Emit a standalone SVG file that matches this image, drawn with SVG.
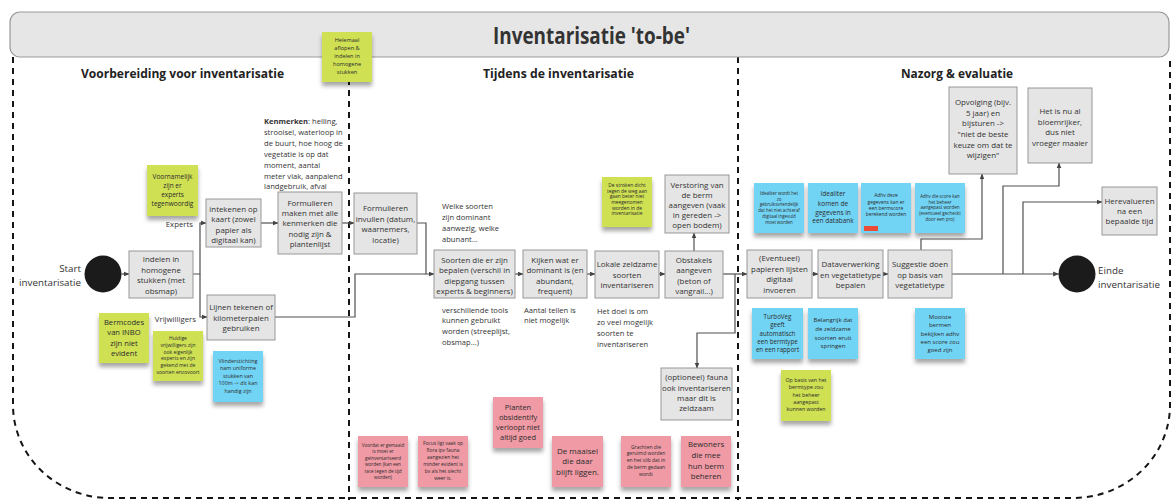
<svg xmlns="http://www.w3.org/2000/svg" width="1172" height="500" viewBox="0 0 1172 500">
  <style>
    text { font-family: 'Open Sans', 'Liberation Sans', sans-serif; fill: #333; }
    .box { fill: #e5e5e5; stroke: #979797; stroke-width: 1; }
    .bt { font-size: 7.9px; text-anchor: middle; }
    .ft { font-size: 7.6px; }
    .lbl { font-size: 7.8px; text-anchor: end; }
    .end { font-size: 9.8px; }
    .hd { font-size: 12px; font-weight: 700; fill: #222; }
    .st { text-anchor: middle; fill: #2b2b2b; }
    .g { fill: #cfe052; }
    .b { fill: #72d4f5; }
    .p { fill: #f09aa5; }
    .dash { fill: none; stroke: #151515; stroke-width: 2; stroke-dasharray: 6 5; }
    .wire { fill: none; stroke: #505050; stroke-width: 1.2; marker-end: url(#ah); }
    .line { fill: none; stroke: #505050; stroke-width: 1.2; }
  </style>
  <defs>
    <marker id="ah" viewBox="0 0 10 10" refX="9" refY="5" markerWidth="6" markerHeight="6" orient="auto" markerUnits="userSpaceOnUse">
      <path d="M0,1 L10,5 L0,9 z" fill="#444"/>
    </marker>
    <filter id="sh" x="-20%" y="-20%" width="140%" height="150%">
      <feDropShadow dx="0" dy="4" stdDeviation="2" flood-color="#000" flood-opacity="0.35"/>
    </filter>
  </defs>

  <rect width="1172" height="500" fill="#fff"/>

  <!-- frame: outer dashed boundary and column dividers -->
  <g id="frame">
    <path class="dash" d="M13,57 V405 A97,93 0 0 0 110,498 H1073 A97,93 0 0 0 1170,405 V57"/>
    <line class="dash" x1="349" y1="57" x2="349" y2="500"/>
    <line class="dash" x1="738" y1="57" x2="738" y2="500"/>
  </g>

  <!-- title bar -->
  <g id="title">
    <rect x="10" y="12" width="1159" height="45" rx="10" fill="#e6e6e6" stroke="#9a9a9a" stroke-width="1.2"/>
    <text x="493" y="44" font-size="23" font-weight="700" fill="#222" textLength="197" lengthAdjust="spacingAndGlyphs">Inventarisatie 'to-be'</text>
  </g>

  <!-- column headings -->
  <g id="headings">
    <text class="hd" x="81" y="77.5" textLength="203" lengthAdjust="spacingAndGlyphs">Voorbereiding voor inventarisatie</text>
    <text class="hd" x="483" y="77.5" textLength="151" lengthAdjust="spacingAndGlyphs">Tijdens de inventarisatie</text>
    <text class="hd" x="901" y="77.5" textLength="112" lengthAdjust="spacingAndGlyphs">Nazorg &amp; evaluatie</text>
  </g>

  <!-- connectors -->
  <g id="connectors">
    <path class="wire" d="M121.5,274 H129"/>
    <path class="wire" d="M193,274 H200 V223 H206"/>
    <path class="wire" d="M200,274 V317 H207"/>
    <path class="wire" d="M261,223 H278"/>
    <path class="wire" d="M342,223 H354"/>
    <path class="wire" d="M417,223 H426 V274 H434"/>
    <path class="line" d="M275,317 H355 V274 H426"/>
    <path class="wire" d="M515,274 H523"/>
    <path class="wire" d="M587,274 H595"/>
    <path class="wire" d="M659,274 H665"/>
    <path class="wire" d="M694,251 V233"/>
    <path class="wire" d="M723,274 H747"/>
    <path class="wire" d="M735,274 V333 H697 V368"/>
    <path class="wire" d="M812,274 H818"/>
    <path class="wire" d="M883,274 H888"/>
    <path class="wire" d="M921,250 V239 H982 V174"/>
    <path class="wire" d="M952,274 H1058.5"/>
    <path class="wire" d="M1003,274 V186 H1059 V163"/>
    <path class="wire" d="M1023,274 V202 H1102"/>
  </g>

  <!-- start / end events -->
  <g id="start">
    <circle cx="103" cy="274" r="18.5" fill="#1b1b1b"/>
    <text class="end" x="81" y="271.5" text-anchor="end">Start</text>
    <text class="end" x="81" y="285.5" text-anchor="end">inventarisatie</text>
  </g>
  <g id="einde">
    <circle cx="1077" cy="274" r="18.5" fill="#1b1b1b"/>
    <text class="end" x="1098" y="274">Einde</text>
    <text class="end" x="1098" y="287.5">inventarisatie</text>
  </g>

  <!-- branch labels -->
  <g id="labels">
    <text class="lbl" x="193" y="227">Experts</text>
    <text class="lbl" x="196" y="322">Vrijwilligers</text>
  </g>

  <!-- process boxes -->
  <g id="indelen">
    <rect class="box" x="129" y="251" width="64" height="47"/>
    <text class="bt"><tspan x="161" y="262">Indelen in</tspan><tspan x="161" y="272.5">homogene</tspan><tspan x="161" y="283">stukken (met</tspan><tspan x="161" y="293.5">obsmap)</tspan></text>
  </g>
  <g id="intekenen">
    <rect class="box" x="206" y="199" width="55" height="48"/>
    <text class="bt"><tspan x="233.5" y="212">intekenen op</tspan><tspan x="233.5" y="222">kaart (zowel</tspan><tspan x="233.5" y="232.5">papier als</tspan><tspan x="233.5" y="243">digitaal kan)</tspan></text>
  </g>
  <g id="lijnen">
    <rect class="box" x="207" y="295" width="68" height="45"/>
    <text class="bt"><tspan x="241" y="310">Lijnen tekenen of</tspan><tspan x="241" y="320.5">kilometerpalen</tspan><tspan x="241" y="331">gebruiken</tspan></text>
  </g>
  <g id="formulieren-maken">
    <rect class="box" x="278" y="192" width="64" height="62"/>
    <text class="bt"><tspan x="310" y="206">Formulieren</tspan><tspan x="310" y="216">maken met alle</tspan><tspan x="310" y="226">kenmerken die</tspan><tspan x="310" y="236.5">nodig zijn &amp;</tspan><tspan x="310" y="247">plantenlijst</tspan></text>
  </g>
  <g id="formulieren-invullen">
    <rect class="box" x="354" y="193" width="63" height="61"/>
    <text class="bt"><tspan x="385.5" y="211">Formulieren</tspan><tspan x="385.5" y="221.5">invullen (datum,</tspan><tspan x="385.5" y="232">waarnemers,</tspan><tspan x="385.5" y="242.5">locatie)</tspan></text>
  </g>
  <g id="soorten-bepalen">
    <rect class="box" x="434" y="250" width="81" height="48"/>
    <text class="bt"><tspan x="474.5" y="263">Soorten die er zijn</tspan><tspan x="474.5" y="273.3">bepalen (verschil in</tspan><tspan x="474.5" y="283.6">diepgang tussen</tspan><tspan x="474.5" y="294">experts &amp; beginners)</tspan></text>
  </g>
  <g id="kijken">
    <rect class="box" x="523" y="250" width="64" height="48"/>
    <text class="bt"><tspan x="555" y="263">Kijken wat er</tspan><tspan x="555" y="273.3">dominant is (en</tspan><tspan x="555" y="283.6">abundant,</tspan><tspan x="555" y="294">frequent)</tspan></text>
  </g>
  <g id="lokale">
    <rect class="box" x="595" y="251" width="64" height="47"/>
    <text class="bt"><tspan x="627" y="267">Lokale zeldzame</tspan><tspan x="627" y="277.5">soorten</tspan><tspan x="627" y="288">inventariseren</tspan></text>
  </g>
  <g id="obstakels">
    <rect class="box" x="665" y="251" width="58" height="47"/>
    <text class="bt"><tspan x="694" y="263">Obstakels</tspan><tspan x="694" y="273.3">aangeven</tspan><tspan x="694" y="283.6">(beton of</tspan><tspan x="694" y="294">vangrail...)</tspan></text>
  </g>
  <g id="verstoring">
    <rect class="box" x="665" y="175" width="64" height="58"/>
    <text class="bt"><tspan x="697" y="188">Verstoring van</tspan><tspan x="697" y="198">de berm</tspan><tspan x="697" y="208">aangeven (vaak</tspan><tspan x="697" y="218">in gereden -&gt;</tspan><tspan x="697" y="228">open bodem)</tspan></text>
  </g>
  <g id="fauna">
    <rect class="box" x="661" y="368" width="71" height="52"/>
    <text class="bt"><tspan x="696.5" y="380">(optioneel) fauna</tspan><tspan x="696.5" y="390.5">ook inventariseren</tspan><tspan x="696.5" y="401">maar dit is</tspan><tspan x="696.5" y="411">zeldzaam</tspan></text>
  </g>
  <g id="invoeren">
    <rect class="box" x="747" y="250" width="65" height="48"/>
    <text class="bt"><tspan x="779.5" y="261">(Eventueel)</tspan><tspan x="779.5" y="271.5">papieren lijsten</tspan><tspan x="779.5" y="282">digitaal</tspan><tspan x="779.5" y="292.5">invoeren</tspan></text>
  </g>
  <g id="dataverwerking">
    <rect class="box" x="818" y="250" width="65" height="48"/>
    <text class="bt"><tspan x="850.5" y="267">Dataverwerking</tspan><tspan x="850.5" y="277.5">en vegetatietype</tspan><tspan x="850.5" y="288">bepalen</tspan></text>
  </g>
  <g id="suggestie">
    <rect class="box" x="888" y="250" width="64" height="48"/>
    <text class="bt"><tspan x="920" y="267">Suggestie doen</tspan><tspan x="920" y="277.5">op basis van</tspan><tspan x="920" y="288">vegetatietype</tspan></text>
  </g>
  <g id="opvolging">
    <rect class="box" x="949" y="87" width="68" height="87"/>
    <text class="bt"><tspan x="983" y="105">Opvolging (bijv.</tspan><tspan x="983" y="115.5">5 jaar) en</tspan><tspan x="983" y="126.2">bijsturen -&gt;</tspan><tspan x="983" y="136.9">"niet de beste</tspan><tspan x="983" y="147.6">keuze om dat te</tspan><tspan x="983" y="158.3">wijzigen"</tspan></text>
  </g>
  <g id="bloemrijker">
    <rect class="box" x="1028" y="88" width="64" height="75"/>
    <text class="bt"><tspan x="1060" y="114">Het is nu al</tspan><tspan x="1060" y="124.5">bloemrijker,</tspan><tspan x="1060" y="135">dus niet</tspan><tspan x="1060" y="145.5">vroeger maaier</tspan></text>
  </g>
  <g id="herevalueren">
    <rect class="box" x="1102" y="187" width="55" height="48"/>
    <text class="bt"><tspan x="1129.5" y="203.5">Herevalueren</tspan><tspan x="1129.5" y="213.8">na een</tspan><tspan x="1129.5" y="224.1">bepaalde tijd</tspan></text>
  </g>

  <!-- free annotations -->
  <g id="kenmerken">
    <text class="ft"><tspan x="264" y="124"><tspan font-weight="700">Kenmerken</tspan>: helling,</tspan><tspan x="264" y="134.9">strooisel, waterloop in</tspan><tspan x="264" y="145.8">de buurt, hoe hoog de</tspan><tspan x="264" y="156.7">vegetatie is op dat</tspan><tspan x="264" y="167.6">moment, aantal</tspan><tspan x="264" y="178.5">meter vlak, aanpalend</tspan><tspan x="264" y="189.4">landgebruik, afval</tspan></text>
  </g>
  <g id="note-welke">
    <text class="ft"><tspan x="442" y="208.7">Welke soorten</tspan><tspan x="442" y="219.8">zijn dominant</tspan><tspan x="442" y="230.8">aanwezig, welke</tspan><tspan x="442" y="241.8">abunant...</tspan></text>
  </g>
  <g id="note-tools">
    <text class="ft"><tspan x="442" y="312.7">verschillende tools</tspan><tspan x="442" y="323.4">kunnen gebruikt</tspan><tspan x="442" y="334.4">worden (streeplijst,</tspan><tspan x="442" y="345.4">obsmap...)</tspan></text>
  </g>
  <g id="note-tellen">
    <text class="ft"><tspan x="524" y="312.7">Aantal tellen is</tspan><tspan x="524" y="323.4">niet mogelijk</tspan></text>
  </g>
  <g id="note-doel">
    <text class="ft"><tspan x="597" y="314.4">Het doel is om</tspan><tspan x="597" y="325.4">zo veel mogelijk</tspan><tspan x="597" y="336">soorten te</tspan><tspan x="597" y="346.5">inventariseren</tspan></text>
  </g>

  <!-- sticky notes -->
  <g id="sticky-helemaal">
    <rect class="g" x="322" y="32" width="50" height="50" filter="url(#sh)"/>
    <text class="st" font-size="5.6"><tspan x="347" y="42">Helemaal</tspan><tspan x="347" y="49.8">aflopen &amp;</tspan><tspan x="347" y="57.7">indelen in</tspan><tspan x="347" y="65.6">homogene</tspan><tspan x="347" y="73.5">stukken</tspan></text>
  </g>
  <g id="sticky-voornamelijk">
    <rect class="g" x="147" y="165" width="51" height="51" filter="url(#sh)"/>
    <text class="st" font-size="6.5"><tspan x="172.5" y="179.3">Voornamelijk</tspan><tspan x="172.5" y="188.3">zijn er</tspan><tspan x="172.5" y="197.3">experts</tspan><tspan x="172.5" y="206">tegenwoordig</tspan></text>
  </g>
  <g id="sticky-bermcodes">
    <rect class="g" x="99" y="313" width="50" height="50" filter="url(#sh)"/>
    <text class="st" font-size="7.6"><tspan x="124" y="324.5">Bermcodes</tspan><tspan x="124" y="335">van INBO</tspan><tspan x="124" y="345.5">zijn niet</tspan><tspan x="124" y="355.5">evident</tspan></text>
  </g>
  <g id="sticky-huidige">
    <rect class="g" x="153" y="331" width="50" height="50" filter="url(#sh)"/>
    <text class="st" font-size="5"><tspan x="178" y="340">Huidige</tspan><tspan x="178" y="346.8">vrijwilligers zijn</tspan><tspan x="178" y="353.5">ook eigenlijk</tspan><tspan x="178" y="360.2">experts en zijn</tspan><tspan x="178" y="367.2">gekend met de</tspan><tspan x="178" y="374">soorten enzovoort</tspan></text>
  </g>
  <g id="sticky-vlinderstichting">
    <rect class="b" x="213" y="351" width="50" height="51" filter="url(#sh)"/>
    <text class="st" font-size="5.4"><tspan x="238" y="362.6">Vlinderstichting</tspan><tspan x="238" y="370.2">nam uniforme</tspan><tspan x="238" y="377.6">stukken van</tspan><tspan x="238" y="385.2">100m -&gt; dit kan</tspan><tspan x="238" y="392.6">handig zijn</tspan></text>
  </g>
  <g id="sticky-stroken">
    <rect class="g" x="602" y="177" width="50" height="50" filter="url(#sh)"/>
    <text class="st" font-size="4.9"><tspan x="627" y="186.8">De stroken dicht</tspan><tspan x="627" y="192.5">tegen de weg aan</tspan><tspan x="627" y="198.4">gaan beter niet</tspan><tspan x="627" y="204.1">meegenomen</tspan><tspan x="627" y="209.5">worden in de</tspan><tspan x="627" y="215.1">inventarisatie</tspan></text>
  </g>
  <g id="sticky-voordat">
    <rect class="p" x="358" y="436" width="50" height="51" filter="url(#sh)"/>
    <text class="st" font-size="4.6"><tspan x="383" y="446.6">Voordat er gemaaid</tspan><tspan x="383" y="453.1">is moet er</tspan><tspan x="383" y="459.6">geïnventariseerd</tspan><tspan x="383" y="466.1">worden (kan een</tspan><tspan x="383" y="472.6">race tegen de tijd</tspan><tspan x="383" y="479.1">worden)</tspan></text>
  </g>
  <g id="sticky-focus">
    <rect class="p" x="418" y="436" width="50" height="51" filter="url(#sh)"/>
    <text class="st" font-size="4.9"><tspan x="443" y="444.5">Focus ligt vaak op</tspan><tspan x="443" y="451.5">flora ipv fauna</tspan><tspan x="443" y="458.5">aangezien het</tspan><tspan x="443" y="465.5">minder evident is</tspan><tspan x="443" y="472.5">bv als het slecht</tspan><tspan x="443" y="479.5">weer is.</tspan></text>
  </g>
  <g id="sticky-planten">
    <rect class="p" x="493" y="397" width="50" height="51" filter="url(#sh)"/>
    <text class="st" font-size="7.4"><tspan x="518" y="409.8">Planten</tspan><tspan x="518" y="419.8">obsidentify</tspan><tspan x="518" y="429.8">verloopt niet</tspan><tspan x="518" y="439.8">altijd goed</tspan></text>
  </g>
  <g id="sticky-maaisel">
    <rect class="p" x="552" y="436" width="51" height="51" filter="url(#sh)"/>
    <text class="st" font-size="8"><tspan x="577.5" y="453.8">De maaisel</tspan><tspan x="577.5" y="464">die daar</tspan><tspan x="577.5" y="474.5">blijft liggen.</tspan></text>
  </g>
  <g id="sticky-grachten">
    <rect class="p" x="621" y="436" width="50" height="51" filter="url(#sh)"/>
    <text class="st" font-size="5"><tspan x="646" y="448.5">Grachten die</tspan><tspan x="646" y="455.1">geruimd worden</tspan><tspan x="646" y="461.8">en het slib dat in</tspan><tspan x="646" y="468.5">de berm gedaan</tspan><tspan x="646" y="475.8">wordt</tspan></text>
  </g>
  <g id="sticky-bewoners">
    <rect class="p" x="681" y="436" width="50" height="51" filter="url(#sh)"/>
    <text class="st" font-size="7.8"><tspan x="706" y="447">Bewoners</tspan><tspan x="706" y="457.7">die mee</tspan><tspan x="706" y="468.7">hun berm</tspan><tspan x="706" y="479.4">beheren</tspan></text>
  </g>
  <g id="sticky-gebruiksvriendelijk">
    <rect class="b" x="754" y="183" width="50" height="50" filter="url(#sh)"/>
    <text class="st" font-size="4.4"><tspan x="779" y="194.6">Idealiter wordt het</tspan><tspan x="779" y="200.6">zo</tspan><tspan x="779" y="206.3">gebruiksvriendelijk</tspan><tspan x="779" y="211.6">dat het niet achteraf</tspan><tspan x="779" y="217.6">digitaal ingevuld</tspan><tspan x="779" y="223.9">moet worden</tspan></text>
  </g>
  <g id="sticky-databank">
    <rect class="b" x="808" y="183" width="50" height="50" filter="url(#sh)"/>
    <text class="st" font-size="6.5"><tspan x="833" y="196.3">Idealiter</tspan><tspan x="833" y="205.6">komen de</tspan><tspan x="833" y="214.6">gegevens in</tspan><tspan x="833" y="223.3">een databank</tspan></text>
  </g>
  <g id="sticky-bermscore">
    <rect class="b" x="861" y="183" width="50" height="50" filter="url(#sh)"/>
    <text class="st" font-size="4.9"><tspan x="886" y="196.7">Adhv deze</tspan><tspan x="886" y="204">gegevens kan er</tspan><tspan x="886" y="210">een bermscore</tspan><tspan x="886" y="216">berekend worden</tspan></text>
    <rect x="864" y="226" width="14" height="5" fill="#ee4a38"/>
  </g>
  <g id="sticky-score-beheer">
    <rect class="b" x="915" y="183" width="50" height="50" filter="url(#sh)"/>
    <text class="st" font-size="4.5"><tspan x="940" y="197.6">Adhv die score kan</tspan><tspan x="940" y="203.6">het beheer</tspan><tspan x="940" y="209.3">aangepast worden</tspan><tspan x="940" y="215.3">(eventueel gecheckt</tspan><tspan x="940" y="221.3">door een pro)</tspan></text>
  </g>
  <g id="sticky-turboveg">
    <rect class="b" x="752" y="308" width="51" height="51" filter="url(#sh)"/>
    <text class="st" font-size="6.2"><tspan x="777.5" y="318.9">TurboVeg</tspan><tspan x="777.5" y="327.2">geeft</tspan><tspan x="777.5" y="335.5">automatisch</tspan><tspan x="777.5" y="343.5">een bermtype</tspan><tspan x="777.5" y="351.5">en een rapport</tspan></text>
  </g>
  <g id="sticky-belangrijk">
    <rect class="b" x="808" y="308" width="50" height="51" filter="url(#sh)"/>
    <text class="st" font-size="6.1"><tspan x="833" y="322.2">Belangrijk dat</tspan><tspan x="833" y="330.9">de zeldzame</tspan><tspan x="833" y="339.5">soorten eruit</tspan><tspan x="833" y="348.2">springen</tspan></text>
  </g>
  <g id="sticky-mooiste">
    <rect class="b" x="915" y="308" width="50" height="51" filter="url(#sh)"/>
    <text class="st" font-size="6"><tspan x="940" y="318.9">Mooiste</tspan><tspan x="940" y="327.2">bermen</tspan><tspan x="940" y="335.5">bekijken adhv</tspan><tspan x="940" y="343.5">een score zou</tspan><tspan x="940" y="351.5">goed zijn</tspan></text>
  </g>
  <g id="sticky-bermtype-beheer">
    <rect class="g" x="781" y="370" width="50" height="51" filter="url(#sh)"/>
    <text class="st" font-size="5.3"><tspan x="806" y="381.9">Op basis van het</tspan><tspan x="806" y="389.2">bermtype zou</tspan><tspan x="806" y="396.6">het beheer</tspan><tspan x="806" y="403.9">aangepast</tspan><tspan x="806" y="410.6">kunnen worden</tspan></text>
  </g>
</svg>
